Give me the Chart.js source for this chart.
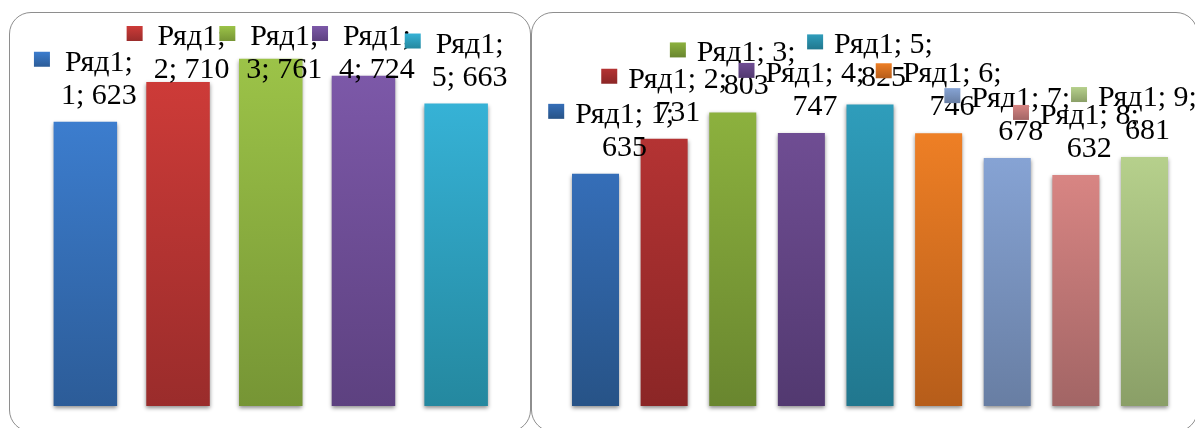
<!DOCTYPE html>
<html>
<head>
<meta charset="utf-8">
<script src="https://cdn.jsdelivr.net/npm/chart.js"></script>
<style>
  html, body { margin: 0; padding: 0; background: #fff; overflow: hidden; width: 1195px; height: 428px; }
  .frame { position: absolute; border: 1.5px solid #8e8e8e; border-radius: 22px; box-sizing: border-box; }
  canvas { position: absolute; top: 0; }
</style>
</head>
<body>
<div class="frame" style="left:9px; top:12px; width:522px; height:420px;"></div>
<div class="frame" style="left:531px; top:12px; width:667px; height:420px;"></div>
<canvas id="left" width="531" height="428" style="left:0"></canvas>
<canvas id="right" width="664" height="428" style="left:531px"></canvas>
<script>
const seriesName = 'Ряд1'

const leftCategories = ['1', '2', '3', '4', '5']
const leftValues = [623, 710, 761, 724, 663]

const rightCategories = ['1', '2', '3', '4', '5', '6', '7', '8', '9']
const rightValues = [635, 731, 803, 747, 825, 746, 678, 632, 681]

// gradient colours, top -> bottom of each bar
const leftTop = ['#3c7dce', '#cd3b38', '#9cc348', '#7c58a8', '#36b2d6']
const leftBottom = ['#2c5c98', '#9a2c2b', '#769535', '#5d4180', '#24889f']
const rightTop = ['#356eb8', '#b43333', '#8cb13e', '#6f4d93', '#2f9dbb', '#ee7f25', '#86a3d4', '#d88583', '#b6d08c']
const rightBottom = ['#275387', '#8b2626', '#69862f', '#523970', '#21778e', '#b65d1a', '#687ea3', '#a26565', '#8a9f67']

const FONT = '30px "Liberation Serif", "Times New Roman", serif'
const KEY = 15
const GAP = 12
const LINE = 33

function wrap(ctx, text, maxWidth) {
  const words = text.split(' ')
  const lines = []
  let cur = ''
  words.forEach(w => {
    const test = cur ? cur + ' ' + w : w
    if (cur && ctx.measureText(test).width > maxWidth) {
      lines.push(cur)
      cur = w
    } else {
      cur = test
    }
  })
  if (cur) lines.push(cur)
  return lines
}

function makeChart(id, categories, values, tops, bottoms, max, padding, labelOpts) {
  const barGradient = (c) => {
    const chart = c.chart
    if (!chart.chartArea || c.type !== 'data') return tops[c.dataIndex]
    const y = chart.scales.y
    const g = chart.ctx.createLinearGradient(0, y.getPixelForValue(c.raw), 0, y.getPixelForValue(0))
    g.addColorStop(0, tops[c.dataIndex])
    g.addColorStop(1, bottoms[c.dataIndex])
    return g
  }

  const labelsPlugin = {
    id: 'excelLabels',
    beforeDatasetsDraw(chart) {
      const ctx = chart.ctx
      ctx.save()
      ctx.shadowColor = 'rgba(0,0,0,0.45)'
      ctx.shadowBlur = 4
      ctx.shadowOffsetY = 2
    },
    afterDatasetsDraw(chart) {
      const ctx = chart.ctx
      ctx.restore()
      const area = chart.chartArea
      const meta = chart.getDatasetMeta(0)
      ctx.save()
      ctx.font = FONT
      ctx.textBaseline = 'alphabetic'
      ctx.textAlign = 'center'
      meta.data.forEach((bar, i) => {
        const lines = wrap(ctx, `${seriesName}; ${categories[i]}; ${values[i]}`, labelOpts.wrap)
        const textW = Math.max(...lines.map(l => ctx.measureText(l).width))
        const total = KEY + GAP + textW
        let left = bar.x - total / 2
        left = Math.max(left, area.left - labelOpts.padL)
        left = Math.min(left, area.right + labelOpts.padR - total)
        let base1 = bar.y - 18 - (lines.length - 1) * LINE
        base1 = Math.max(base1, labelOpts.minBase)

        const ky = base1 - 19
        const kg = ctx.createLinearGradient(0, ky, 0, ky + KEY)
        kg.addColorStop(0, tops[i])
        kg.addColorStop(1, bottoms[i])
        ctx.fillStyle = kg
        ctx.fillRect(left, ky, KEY + 1, KEY)

        ctx.fillStyle = '#000'
        const cx = left + KEY + GAP + textW / 2
        lines.forEach((l, j) => ctx.fillText(l, cx, base1 + j * LINE))
      })
      ctx.restore()
    }
  }

  return new Chart(document.getElementById(id), {
    type: 'bar',
    data: {
      labels: categories,
      datasets: [{
        label: seriesName,
        data: values,
        backgroundColor: barGradient,
        borderWidth: 0,
        barPercentage: 0.685,
        categoryPercentage: 1,
        clip: false
      }]
    },
    options: {
      responsive: false,
      animation: false,
      layout: { padding: padding },
      scales: {
        x: { display: false },
        y: { display: false, min: 0, max: max }
      },
      plugins: {
        legend: { display: false },
        tooltip: { enabled: false }
      }
    },
    plugins: [labelsPlugin]
  })
}

makeChart('left', leftCategories, leftValues, leftTop, leftBottom, 800,
  { left: 39, right: 28.5, top: 41, bottom: 22 },
  { wrap: 88, padL: 13, padR: 18, minBase: 45 })

makeChart('right', rightCategories, rightValues, rightTop, rightBottom, 1000,
  { left: 30.2, right: 16.2, top: 40.4, bottom: 22 },
  { wrap: 115, padL: 13, padR: 18, minBase: 45 })
</script>
</body>
</html>
